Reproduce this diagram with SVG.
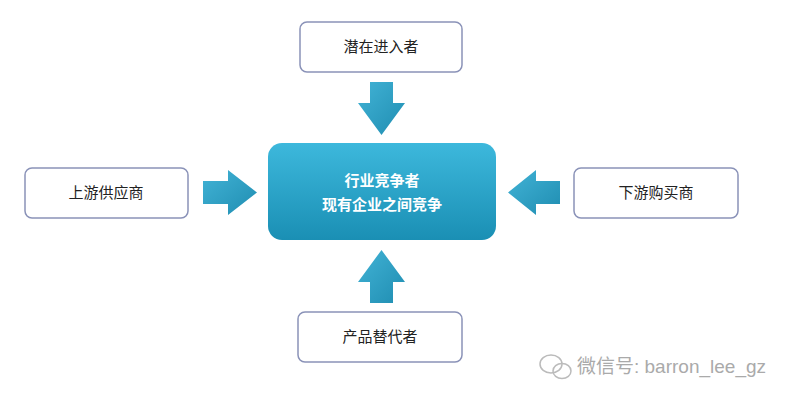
<svg xmlns="http://www.w3.org/2000/svg" width="800" height="403" viewBox="0 0 800 403">
<defs>
<linearGradient id="g" x1="0" y1="0" x2="0" y2="1"><stop offset="0" stop-color="#3db8dc"/><stop offset="1" stop-color="#1a8fb4"/></linearGradient>
<linearGradient id="ga" x1="0" y1="0" x2="1" y2="1"><stop offset="0" stop-color="#42b3d6"/><stop offset="1" stop-color="#1f8db1"/></linearGradient>
<style>
.box{fill:#fff;stroke:#8a92b8;stroke-width:1.5}
.t{font-family:"Noto Sans CJK SC",sans-serif;font-size:15px;fill:#222;text-anchor:middle}
.w{font-family:"Noto Sans CJK SC",sans-serif;font-size:15px;fill:#fff;text-anchor:middle;font-weight:bold}
.ar{fill:url(#ga)}
</style>
</defs>
<rect width="800" height="403" fill="#fff"/>
<g id="top"><rect class="box" x="300" y="22" width="162" height="50" rx="7"/><text class="t" x="381" y="52">潜在进入者</text></g>
<g id="left"><rect class="box" x="25" y="168" width="163" height="50" rx="7"/><text class="t" x="106" y="198">上游供应商</text></g>
<g id="right"><rect class="box" x="574" y="168" width="164" height="50" rx="7"/><text class="t" x="656" y="198">下游购买商</text></g>
<g id="bottom"><rect class="box" x="298" y="312" width="164" height="50" rx="7"/><text class="t" x="380" y="342">产品替代者</text></g>
<g id="center"><rect x="268" y="143" width="228" height="97" rx="14" fill="url(#g)"/><text class="w" x="382" y="186">行业竞争者</text><text class="w" x="382" y="210">现有企业之间竞争</text></g>
<g id="connectors">
<polygon class="ar" points="370,82 393,82 393,103 405,103 381.5,135 358,103 370,103"/>
<polygon class="ar" points="370,303 393,303 393,282 405,282 381.5,250 358,282 370,282"/>
<polygon class="ar" points="203,181 228,181 228,170 257,192.5 228,215 228,204 203,204"/>
<polygon class="ar" points="560,181 536,181 536,170 508,192.5 536,215 536,204 560,204"/>
</g>
<g id="watermark" fill="none" stroke="#bbb" stroke-width="1.5">
<ellipse cx="551" cy="364" rx="11" ry="9"/><ellipse cx="562" cy="371" rx="9" ry="7.5"/>
<text x="577" y="373" font-family="Liberation Sans,Noto Sans CJK SC,sans-serif" font-size="19" fill="#aaa" stroke="none">微信号: barron_lee_gz</text>
</g>
</svg>
